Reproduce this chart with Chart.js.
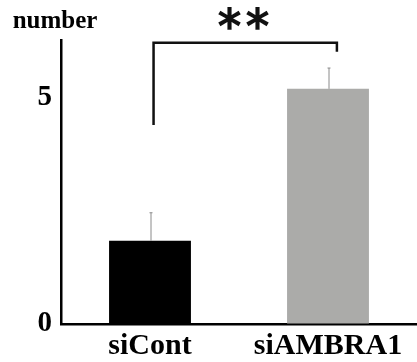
<!DOCTYPE html>
<html>
<head>
<meta charset="utf-8">
<script src="https://cdn.jsdelivr.net/npm/chart.js@4.4.1/dist/chart.umd.min.js"></script>
<style>
  html, body { margin: 0; padding: 0; background: #fff; }
  #wrap { width: 417px; height: 362px; position: relative; }
</style>
</head>
<body>
<div id="wrap"><canvas id="barChart"></canvas></div>
<script>
// data
var categories = ['siCont', 'siAMBRA1'];
var means      = [1.84, 5.2];
var errors     = [0.62, 0.46];
var yTicks     = [0, 5];
var yMax       = 6.28;
var yLabel     = 'number';
var signif     = '**';

var serif = '"Liberation Serif", "Times New Roman", serif';

// error bars + significance bracket, drawn with the chart's scales
var extrasPlugin = {
  id: 'extras',
  afterDatasetsDraw: function (chart) {
    var ctx = chart.ctx;
    var x = chart.scales.x, y = chart.scales.y;
    ctx.save();
    // error bars (upper only)
    ctx.strokeStyle = '#8a8a8a';
    ctx.lineWidth = 1;
    means.forEach(function (m, i) {
      var px = x.getPixelForValue(i) + 1;
      var top = y.getPixelForValue(m + errors[i]);
      ctx.beginPath();
      ctx.moveTo(px, y.getPixelForValue(m));
      ctx.lineTo(px, top);
      ctx.moveTo(px - 1.5, top);
      ctx.lineTo(px + 1.5, top);
      ctx.stroke();
    });
    // bracket
    var x0 = x.getPixelForValue(0.02);
    var x1 = x.getPixelForValue(1.05);
    ctx.strokeStyle = '#111';
    ctx.lineWidth = 2.5;
    ctx.beginPath();
    ctx.moveTo(x0, y.getPixelForValue(4.4));
    ctx.lineTo(x0, y.getPixelForValue(6.22));
    ctx.lineTo(x1, y.getPixelForValue(6.22));
    ctx.lineTo(x1, y.getPixelForValue(6.02));
    ctx.stroke();
    // asterisks
    ctx.fillStyle = '#111';
    ctx.strokeStyle = '#111';
    ctx.lineWidth = 1.6;
    ctx.font = '46px "DejaVu Sans", sans-serif';
    ctx.textAlign = 'center';
    ctx.textBaseline = 'middle';
    if ('letterSpacing' in ctx) ctx.letterSpacing = '5px';
    ctx.fillText(signif, 246, 30);
    ctx.strokeText(signif, 246, 30);
    if ('letterSpacing' in ctx) ctx.letterSpacing = '0px';
    // y axis title
    ctx.fillStyle = '#000';
    ctx.font = 'bold 25px ' + serif;
    ctx.fillText(yLabel, 55, 22);
    ctx.restore();
  }
};

var barCanvas = document.getElementById('barChart').getContext('2d');
var barChart = new Chart(barCanvas, {
  type: 'bar',
  data: {
    labels: categories,
    datasets: [{
      data: means,
      backgroundColor: ['#000000', '#ababa9'],
      borderWidth: 0,
      barPercentage: 0.46,
      categoryPercentage: 1.0
    }]
  },
  options: {
    responsive: true,
    maintainAspectRatio: false,
    animation: false,
    layout: { padding: { top: 40, right: 0, left: 0, bottom: 0 } },
    plugins: { legend: { display: false }, tooltip: { enabled: false } },
    scales: {
      x: {
        grid: { display: true, drawOnChartArea: false, drawTicks: false },
        border: { display: true, color: '#000', width: 2.5 },
        ticks: { color: '#000', padding: 4, font: { family: serif, size: 30, weight: 'bold' } },
        afterFit: function (s) { s.height = 38; }
      },
      y: {
        min: 0,
        max: yMax,
        afterBuildTicks: function (s) { s.ticks = yTicks.map(function (v) { return { value: v }; }); },
        grid: { display: true, drawOnChartArea: false, drawTicks: false },
        border: { display: true, color: '#000', width: 2.5 },
        ticks: { color: '#000', padding: 9, font: { family: serif, size: 29, weight: 'bold' } },
        afterFit: function (s) { s.width = 61; }
      }
    }
  },
  plugins: [extrasPlugin]
});
</script>
</body>
</html>
